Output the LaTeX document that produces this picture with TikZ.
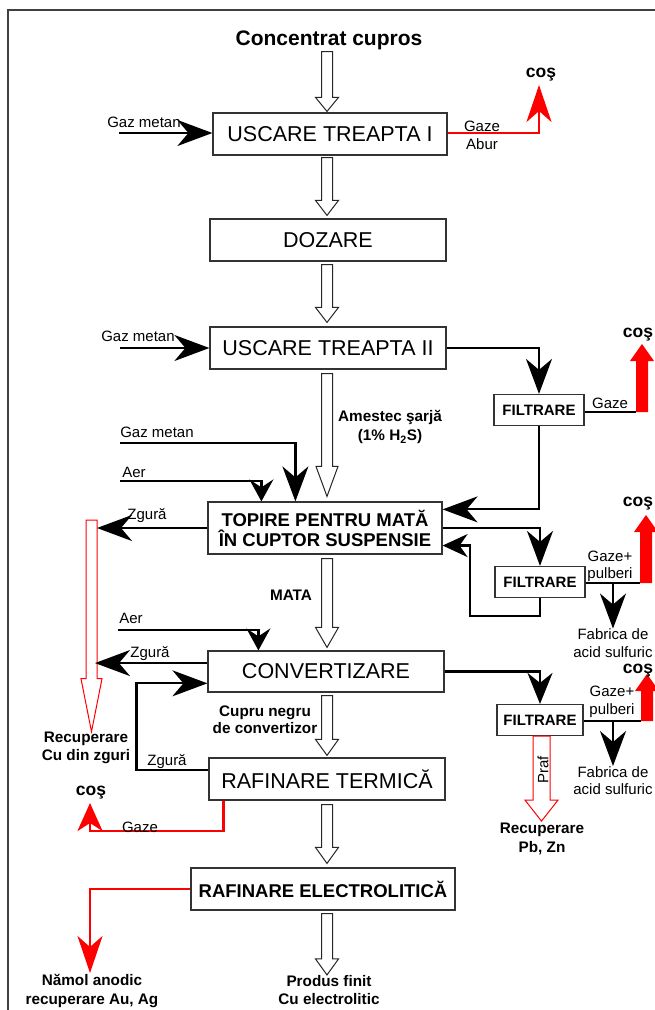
\documentclass[tikz,border=0pt]{standalone}
\usepackage{fontspec}
\setmainfont{Liberation Sans}
\usetikzlibrary{arrows.meta,calc}
% hollow block arrow pointing down: style, from, to, head length, shaft half width, head half width
\newcommand\hconn[6]{\path[#1] let \p1=#2, \p2=#3 in
  ({\x1-#5pt},\y1) -- ({\x1+#5pt},\y1) -- ({\x1+#5pt},{\y2+#4pt}) -- ({\x1+#6pt},{\y2+#4pt})
  -- (\x1,\y2) -- ({\x1-#6pt},{\y2+#4pt}) -- ({\x1-#5pt},{\y2+#4pt}) -- cycle;}
% filled red block arrow pointing up: from, tip
\newcommand\rblock[2]{\fill[red] let \p1=#1, \p2=#2 in
  ({\x1-6pt},\y1) -- ({\x1+6pt},\y1) -- ({\x1+6pt},{\y2-17pt}) -- ({\x1+12pt},{\y2-17pt})
  -- (\x1,\y2) -- ({\x1-12pt},{\y2-17pt}) -- ({\x1-6pt},{\y2-17pt}) -- cycle;}
\begin{document}
\begin{tikzpicture}[x=1pt,y=-1pt,
  box/.style={draw=black!80,line width=1.2pt,inner sep=0pt,font=\fontsize{21.5}{24}\selectfont},
  bbox/.style={box,font=\fontsize{18.5}{20}\selectfont\bfseries,align=center},
  filt/.style={draw=black!80,line width=1.2pt,inner sep=0pt,minimum width=90pt,minimum height=31pt,font=\fontsize{15}{18}\selectfont\bfseries},
  lab/.style={inner sep=0pt,font=\fontsize{15}{17.5}\selectfont,align=center},
  blab/.style={inner sep=0pt,font=\fontsize{15.3}{18.5}\selectfont\bfseries,align=center},
  coslab/.style={inner sep=0pt,font=\fontsize{17.5}{20}\selectfont\bfseries},
  blk/.style={line width=2.2pt,-{Stealth[length=35pt,width=26pt,inset=11pt]}},
  blkshort/.style={line width=2.2pt,-{Stealth[length=31pt,width=25pt,inset=10pt]}},
  blks/.style={line width=2.2pt,-{Stealth[length=22pt,width=24pt,inset=8pt]}},
  blkret/.style={line width=2.2pt,-{Stealth[length=25pt,width=23pt,inset=8pt]}},
  redl/.style={red,line width=2.4pt,-{Stealth[length=37pt,width=25pt,inset=11pt]}},
  redls/.style={red,line width=2.4pt,-{Stealth[length=28pt,width=25pt,inset=8pt]}},
  hol/.style={draw=black!85,fill=white,line width=1pt},
  rhol/.style={draw=red,fill=white,line width=1pt},
  gline/.style={line width=2.2pt},
]
\useasboundingbox (0,0) rectangle (655,1010);
\clip (0,0) rectangle (655,1010);
\fill[white] (0,0) rectangle (655,1010);
\draw[line width=1.6pt,black!75] (8,1015) -- (8,10) -- (660,10);

% main boxes
\node[font=\fontsize{21}{24}\selectfont\bfseries,inner sep=0pt] (title) at (329,40) {Concentrat cupros};
\node[box,minimum width=234pt,minimum height=42pt] (b1) at (330,134) {USCARE TREAPTA I};
\node[box,minimum width=236pt,minimum height=42pt] (b2) at (328,240) {DOZARE};
\node[box,minimum width=236pt,minimum height=42pt] (b3) at (328,348) {USCARE TREAPTA II};
\node[bbox,minimum width=234pt,minimum height=52pt] (b4) at (325,528) {TOPIRE PENTRU MATĂ\\ÎN CUPTOR SUSPENSIE};
\node[box,minimum width=236pt,minimum height=41pt] (b5) at (326,671.5) {CONVERTIZARE};
\node[box,minimum width=236pt,minimum height=42pt] (b6) at (327,779) {RAFINARE TERMICĂ};
\node[bbox,minimum width=264pt,minimum height=42pt] (b7) at (323,889) {RAFINARE ELECTROLITICĂ};
\node[filt] (f1) at (539,410) {FILTRARE};
\node[filt] (f2) at (540,582) {FILTRARE};
\node[filt,minimum width=86pt] (f3) at (540,720) {FILTRARE};
\node[blab] (prod) at (329,990) {Produs finit\\Cu electrolitic};
\node[lab] (fab1) at (613,643) {Fabrica de\\acid sulfuric};
\node[lab] (fab2) at (613,780.5) {Fabrica de\\acid sulfuric};
\node[blab] (nam) at (92,991) {Nămol anodic\\recuperare Au, Ag};
\node[blab] (rpz) at (542,839) {Recuperare\\Pb, Zn};
\node[blab] (rcz) at (86,748) {Recuperare\\Cu din zguri};

% central hollow arrows
\coordinate (col) at (327,0);
\hconn{hol}{($(title.south -| col)+(0,2)$)}{($(b1.north -| col)+(0,-1)$)}{14}{5.5}{11.5}
\hconn{hol}{($(b1.south -| col)+(0,2)$)}{($(b2.north -| col)+(0,-3)$)}{15}{5.5}{11.5}
\hconn{hol}{($(b2.south -| col)+(0,3)$)}{($(b3.north -| col)+(0,-4)$)}{15}{5.5}{11.5}
\hconn{hol}{($(b3.south -| col)+(0,4)$)}{($(b4.north -| col)+(0,-5)$)}{30}{5.5}{11}
\hconn{hol}{($(b4.south -| col)+(0,4)$)}{($(b5.north -| col)+(0,-3)$)}{20}{5.5}{11.5}
\hconn{hol}{($(b5.south -| col)+(0,3)$)}{($(b6.north -| col)+(0,-2)$)}{16}{5.5}{11.5}
\hconn{hol}{($(b6.south -| col)+(0,4)$)}{($(b7.north -| col)+(0,-4)$)}{16}{5.5}{11.5}
\hconn{hol}{($(b7.south -| col)+(0,3)$)}{(prod.north -| col)}{16}{5.5}{11.5}

% USCARE TREAPTA I
\coordinate (gm1) at (119,133);
\draw[blk] (gm1) -- (gm1 -| b1.west);
\coordinate (c1t) at (539,85);
\draw[redl] (b1.east |- gm1) -| (c1t);

% USCARE TREAPTA II
\coordinate (gm2) at (120,348);
\draw[blk] (gm2) -- (gm2 -| b3.west);
\draw[blk] (b3.east) -| (f1.north);
\coordinate (k1) at (642,412);
\coordinate (k1t) at (642,344);
\draw[gline] (f1.east |- k1) -- ($(k1)+(-6,0)$);
\rblock{(k1)}{(k1t)}
\draw[blk] (f1.south) |- ($(b4.north east)!0.15!(b4.south east)$);

% TOPIRE
\draw[blk] (b4.east) -| (f2.north);
\coordinate (ret) at (470,616);
\draw[blkret] (f2.south) |- (ret) |- ($(b4.north east)!0.83!(b4.south east)$);
\coordinate (k2) at (646,583);
\coordinate (k2t) at (646,515);
\draw[gline] (f2.east |- k2) -- ($(k2)+(-6,0)$);
\rblock{(k2)}{(k2t)}
\draw[blk] (k2 -| fab1.north) -- (fab1.north);
\coordinate (gm3) at (120,443);
\draw[blk] (gm3) -| ($(b4.north west)+(88,0)$);
\coordinate (aer1) at (120,481);
\draw[blks] (aer1) -| ($(b4.north west)+(54,0)$);
\coordinate (rz) at (91.5,520);
\hconn{rhol}{(rz)}{(rcz.north -| rz)}{53}{5.5}{10.5}
\draw[blk] (b4.west) -- ($(b4.west -| rz)+(5.5,0)$);

% CONVERTIZARE
\coordinate (aer2) at (118,630);
\draw[blks] (aer2) -| ($(b5.north west)+(51,0)$);
\coordinate (z2) at ($(b5.north west)!0.3!(b5.south west)$);
\draw[blk] (z2) -- ($(z2 -| rz)+(3.5,0)$);
\coordinate (lp1) at ($(b6.north west)!0.3!(b6.south west)$);
\draw[blk] (lp1) -- ++(-72,0) |- ($(b5.north west)!0.78!(b5.south west)$);
\draw[blkshort] (b5.east) -| (f3.north);
\coordinate (k3) at (647,721);
\coordinate (k3t) at (647,674);
\draw[gline] (f3.east |- k3) -- ($(k3)+(-6,0)$);
\rblock{(k3)}{(k3t)}
\draw[blk] (k3 -| fab2.north) -- (fab2.north);
\hconn{rhol}{($(f3.south)+(1.5,0)$)}{($(rpz.north)+(0,-2)$)}{21}{8.5}{16.5}
\node[lab,rotate=90] (praf) at (543,770) {Praf};

% RAFINARE TERMICA
\coordinate (c5t) at (90,803);
\draw[redls] ($(b6.south west)+(15,0)$) |- ($(c5t)+(0,28)$) -- (c5t);

% RAFINARE ELECTROLITICA
\coordinate (namt) at (90,973);
\draw[redl] (b7.west) -| (namt);

% labels
\node[lab] (lgm1) at (144,122) {Gaz metan};
\node[lab] (lgz1) at (482,126) {Gaze};
\node[lab] (lab1) at (482,144) {Abur};
\node[coslab] (cos1) at (541,75) {coş};
\node[lab] (lgm2) at (138,336) {Gaz metan};
\node[coslab] (cos2) at (638,335) {coş};
\node[lab] (lgz2) at (610,403) {Gaze};
\node[blab,font=\fontsize{15.3}{19}\selectfont\bfseries] (am) at (390,427) {Amestec şarjă\\(1\% H\textsubscript{2}S)};
\node[lab] (lgm3) at (157,432) {Gaz metan};
\node[lab] (laer1) at (134,472) {Aer};
\node[lab] (lzg1) at (147,516) {Zgură};
\node[coslab] (cos3) at (638,504) {coş};
\node[lab] (lgp1) at (610,566.5) {Gaze+\\pulberi};
\node[blab] (mata) at (291,595) {MATA};
\node[lab] (laer2) at (131,618) {Aer};
\node[lab] (lzg2) at (150,654) {Zgură};
\node[coslab] (cos4) at (638,671) {coş};
\node[lab] (lgp2) at (612,702) {Gaze+\\pulberi};
\node[blab,font=\fontsize{15.3}{17}\selectfont\bfseries] (cnc) at (265,719.5) {Cupru negru\\de convertizor};
\node[lab] (lzg3) at (167,762) {Zgură};
\node[coslab] (cos5) at (91,793) {coş};
\node[lab] (lgz3) at (140,827) {Gaze};
\end{tikzpicture}
\end{document}
